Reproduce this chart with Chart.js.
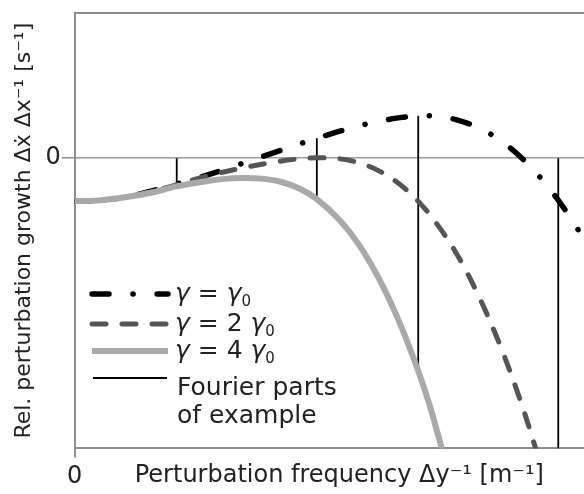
<!DOCTYPE html>
<html>
<head>
<meta charset="utf-8">
<script src="https://cdn.jsdelivr.net/npm/chart.js@4.4.1/dist/chart.umd.min.js"></script>
<style>
  html, body { margin: 0; padding: 0; background: #fff; overflow: hidden; }
  #area { position: relative; width: 606px; height: 494px; }
</style>
</head>
<body>
<div id="area"><canvas id="grafico-crescimento"></canvas></div>
<script>
// Frequência da perturbação (eixo x) e crescimento relativo (eixo y), unidades arbitrárias
const freqGama1 = [0, 0.473, 0.983, 1.418, 1.928, 2.363, 2.836, 3.308, 3.781, 4.253, 4.575, 5.009, 5.388, 5.766, 6.144, 6.560, 6.900, 7.202, 7.637, 7.977, 8.336, 8.639, 8.922, 9.187, 9.414, 9.603, 10.0];
const crescGama1 = [-0.296, -0.291, -0.268, -0.230, -0.178, -0.133, -0.078, -0.018, 0.040, 0.099, 0.137, 0.186, 0.224, 0.255, 0.279, 0.293, 0.286, 0.265, 0.210, 0.137, 0.037, -0.071, -0.188, -0.316, -0.437, -0.551, -0.814];

const freqGama2 = [0, 0.473, 0.983, 1.607, 2.231, 2.741, 3.214, 3.743, 4.159, 4.575, 5.009, 5.388, 5.766, 6.144, 6.522, 6.900, 7.278, 7.656, 8.034, 8.412, 8.715, 8.885];
const crescGama2 = [-0.296, -0.291, -0.268, -0.216, -0.150, -0.102, -0.064, -0.029, -0.008, 0.002, -0.005, -0.034, -0.091, -0.181, -0.310, -0.482, -0.698, -0.968, -1.287, -1.661, -2.007, -2.215];

const freqGama4 = [0, 0.473, 0.983, 1.418, 1.928, 2.457, 2.836, 3.157, 3.497, 3.875, 4.253, 4.575, 5.009, 5.388, 5.766, 6.144, 6.484, 6.711, 6.938, 7.089];
const crescGama4 = [-0.296, -0.291, -0.268, -0.240, -0.195, -0.161, -0.143, -0.137, -0.140, -0.161, -0.211, -0.282, -0.428, -0.606, -0.843, -1.139, -1.460, -1.708, -2.001, -2.174];

// Componentes de Fourier do exemplo: posição e extremos de cada segmento
const fourierFreq = [1.928, 4.575, 6.49, 9.136];
const fourierTopo = [0, 0.137, 0.292, 0];
const fourierBase = [-0.195, -0.282, -1.460, -2.0];

const rotulosSerie = ['γ = γ0', 'γ = 2 γ0', 'γ = 4 γ0', 'Fourier parts of example'];

const FONTE = '"DejaVu Sans", sans-serif';
const COR_EIXO = '#8d8d8d';
const COR_TEXTO = '#222';

function pontos(xs, ys) {
  return xs.map((x, i) => ({ x, y: ys[i] }));
}

// Segmentos verticais separados por null (a linha não liga os segmentos)
function segmentosFourier() {
  const dados = [];
  fourierFreq.forEach((f, i) => {
    dados.push({ x: f, y: fourierTopo[i] }, { x: f, y: fourierBase[i] }, { x: f, y: null });
  });
  return dados;
}

// Escreve texto com gama em itálico e índice subscrito
function escreverRico(ctx, partes, x, y, tamanho) {
  partes.forEach(([txt, estilo]) => {
    if (estilo === 'sub') {
      ctx.font = Math.round(tamanho * 0.6) + 'px ' + FONTE;
      ctx.fillText(txt, x, y + 5);
    } else {
      ctx.font = (estilo === 'it' ? 'italic ' : '') + tamanho + 'px ' + FONTE;
      ctx.fillText(txt, x, y);
    }
    x += ctx.measureText(txt).width;
  });
}

// Legenda desenhada dentro da área do gráfico, canto inferior esquerdo
const legendaPlugin = {
  id: 'legenda',
  afterDatasetsDraw(chart) {
    const ctx = chart.ctx;
    const itens = [
      { ds: 2, y: 294, x0: 92, x1: 168, linhas: [[['γ', 'it'], [' = ', ''], ['γ', 'it'], ['0', 'sub']]] },
      { ds: 1, y: 324, x0: 92, x1: 168, linhas: [[['γ', 'it'], [' = 2 ', ''], ['γ', 'it'], ['0', 'sub']]] },
      { ds: 0, y: 351, x0: 92, x1: 168, linhas: [[['γ', 'it'], [' = 4 ', ''], ['γ', 'it'], ['0', 'sub']]] },
      { ds: 3, y: 378, x0: 93, x1: 167, linhas: [[['Fourier parts', '']], [['of example', '']]] }
    ];
    ctx.save();
    itens.forEach(item => {
      const ds = chart.data.datasets[item.ds];
      ctx.strokeStyle = ds.borderColor;
      ctx.lineWidth = ds.borderWidth;
      ctx.lineCap = ds.borderCapStyle || 'butt';
      ctx.setLineDash(ds.borderDash || []);
      ctx.beginPath();
      ctx.moveTo(item.x0, item.y);
      ctx.lineTo(item.x1, item.y);
      ctx.stroke();
      ctx.setLineDash([]);
      ctx.fillStyle = COR_TEXTO;
      ctx.textBaseline = 'alphabetic';
      item.linhas.forEach((linha, j) => {
        escreverRico(ctx, linha, item.ds === 3 ? 177 : 175, item.y + (item.ds === 3 ? 17 : 7) + j * 28, 25);
      });
    });
    ctx.restore();
  }
};

const ctx = document.getElementById('grafico-crescimento').getContext('2d');

new Chart(ctx, {
  type: 'line',
  data: {
    datasets: [
      {
        label: rotulosSerie[2],
        data: pontos(freqGama4, crescGama4),
        borderColor: '#a9a9a9',
        borderWidth: 6,
        borderCapStyle: 'butt',
        tension: 0.35
      },
      {
        label: rotulosSerie[1],
        data: pontos(freqGama2, crescGama2),
        borderColor: '#555555',
        borderWidth: 5,
        borderDash: [14, 16],
        borderCapStyle: 'round',
        tension: 0.35
      },
      {
        label: rotulosSerie[0],
        data: pontos(freqGama1, crescGama1),
        borderColor: '#000000',
        borderWidth: 5.5,
        borderDash: [17, 24, 0.1, 24],
        borderCapStyle: 'round',
        tension: 0.35
      },
      {
        label: rotulosSerie[3],
        data: segmentosFourier(),
        borderColor: '#000000',
        borderWidth: 1.8,
        spanGaps: false,
        tension: 0
      }
    ]
  },
  options: {
    responsive: true,
    maintainAspectRatio: false,
    animation: false,
    elements: { point: { radius: 0 } },
    layout: { padding: { top: 13, right: 2, left: 0, bottom: 0 } },
    plugins: {
      legend: { display: false },
      tooltip: { enabled: false }
    },
    scales: {
      x: {
        type: 'linear',
        min: 0,
        max: 10,
        afterBuildTicks: s => { s.ticks = [{ value: 0 }]; },
        ticks: { font: { family: FONTE, size: 24 }, color: COR_TEXTO, padding: 5, maxRotation: 0 },
        grid: { drawOnChartArea: false, tickLength: 9, color: COR_EIXO, lineWidth: 2 },
        border: { color: COR_EIXO, width: 2 },
        title: {
          display: true,
          text: 'Perturbation frequency Δy⁻¹ [m⁻¹]',
          font: { family: FONTE, size: 24 },
          color: COR_TEXTO,
          padding: { top: -35, bottom: 4 }
        }
      },
      y: {
        type: 'linear',
        min: -2,
        max: 1,
        afterBuildTicks: s => { s.ticks = [{ value: 0 }, { value: 1 }]; },
        ticks: {
          font: { family: FONTE, size: 24, lineHeight: 1 },
          color: COR_TEXTO,
          padding: 1,
          callback: v => (v === 0 ? '0' : '')
        },
        grid: {
          color: c => (c.tick && c.tick.value === 0 ? '#9c9c9c' : COR_EIXO),
          lineWidth: c => (c.tick && c.tick.value === 0 ? 1.5 : 2),
          tickLength: 13,
          tickColor: c => (c.tick && c.tick.value === 0 ? COR_EIXO : 'rgba(0,0,0,0)')
        },
        border: { color: COR_EIXO, width: 2 },
        title: {
          display: true,
          text: 'Rel. perturbation growth Δẋ Δx⁻¹ [s⁻¹]',
          font: { family: FONTE, size: 22 },
          color: COR_TEXTO,
          padding: { top: 11, bottom: 7 }
        }
      }
    }
  },
  plugins: [legendaPlugin]
});
</script>
</body>
</html>
